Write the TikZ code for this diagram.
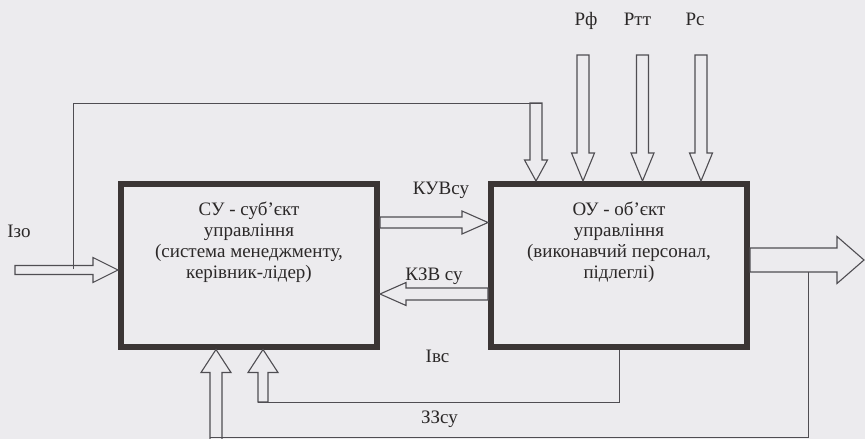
\documentclass[tikz,border=0pt]{standalone}
\usepackage{fontspec}
\setmainfont{Liberation Serif}
\usepackage{tikz}
\usetikzlibrary{calc, positioning}
\definecolor{scanBg}{HTML}{ECEBEE}
\definecolor{inkDark}{HTML}{3B3535}
\definecolor{inkLine}{HTML}{4F4D52}
\definecolor{inkText}{HTML}{2B2828}

% hollow block arrow: start, end, shaft half width, head half width, head length
\newcommand{\hollowarrow}[5]{%
  \coordinate (ha-h) at ($(#2)!#5!(#1)$);
  \draw[fatarrow]
    ($(#1)!#3!90:(#2)$) -- ($(ha-h)!#3!-90:(#1)$) -- ($(ha-h)!#4!-90:(#1)$) -- (#2)
    -- ($(ha-h)!#4!90:(#1)$) -- ($(ha-h)!#3!90:(#1)$) -- ($(#1)!#3!-90:(#2)$) -- cycle;
}

\begin{document}
\begin{tikzpicture}[
  x=1pt, y=-1pt,
  ctrlbox/.style={
    rectangle, draw=inkDark, fill=scanBg, line width=6pt,
    minimum width=256pt, minimum height=163pt,
  },
  boxtext/.style={
    align=center, inner sep=0pt, text=inkText,
    font=\fontsize{19}{21}\selectfont,
  },
  lbl/.style={inner sep=0pt, anchor=base, text=inkText, font=\fontsize{19}{21}\selectfont},
  fatarrow/.style={draw=inkLine, fill=scanBg, line width=1.1pt, line join=miter},
  thinline/.style={draw=inkLine, line width=1pt},
]

% Page
\fill[scanBg] (0,0) rectangle (865,439);
\useasboundingbox (0,0) rectangle (865,439);

% Boxes
\node[ctrlbox] (su) at (249,265) {};
\node[ctrlbox] (ou) at (619,265.5) {};
\node[boxtext, below=21pt of su.north] (su-txt)
  {СУ - суб’єкт\\управління\\(система менеджменту,\\керівник-лідер)};
\node[boxtext, below=21pt of ou.north] (ou-txt)
  {ОУ - об’єкт\\управління\\(виконавчий персонал,\\підлеглі)};

% Arrows between the boxes
\coordinate (kuv-a) at ($(su.east)+(0,-42.5)$);
\coordinate (kuv-b) at (kuv-a -| ou.west);
\hollowarrow{kuv-a}{kuv-b}{5.5pt}{11.5pt}{26pt}
\coordinate (kzv-a) at ($(ou.west)+(0,28.5)$);
\coordinate (kzv-b) at (kzv-a -| su.east);
\hollowarrow{kzv-a}{kzv-b}{6pt}{11.5pt}{26pt}

% Input and output
\coordinate (izo-a) at (15,270);
\coordinate (izo-b) at (izo-a -| su.west);
\hollowarrow{izo-a}{izo-b}{4.5pt}{12.5pt}{25pt}
\coordinate (out-a) at ($(ou.east)+(0,-5.5)$);
\coordinate (out-b) at (864,260);
\hollowarrow{out-a}{out-b}{12pt}{23.5pt}{27pt}

% Arrows into OU from above
\coordinate (zv-a) at (536,103);
\coordinate (zv-b) at (zv-a |- ou.north);
\hollowarrow{zv-a}{zv-b}{6pt}{11.5pt}{21pt}
\foreach \nm/\xx in {rf/583, rtt/642.5, rs/701} {
  \coordinate (\nm-a) at (\xx,55);
  \coordinate (\nm-b) at (\nm-a |- ou.north);
  \hollowarrow{\nm-a}{\nm-b}{6pt}{11.5pt}{28pt}
}

% Arrows into SU from below
\coordinate (zz-a) at (216,442);
\coordinate (zz-b) at (zz-a |- su.south);
\hollowarrow{zz-a}{zz-b}{6pt}{15pt}{23pt}
\coordinate (ivs-a) at (263,402);
\coordinate (ivs-b) at (ivs-a |- su.south);
\hollowarrow{ivs-a}{ivs-b}{5pt}{15pt}{23pt}

% Feedback lines
\coordinate (fb-a) at (73,269);
\draw[thinline] (fb-a) |- ($(zv-a)+(6,0)$);
\draw[thinline] (ou.south) |- ($(ivs-a)+(-5,0)$);
\coordinate (zzl) at ($(out-a)+(58,12)$);
\draw[thinline] (zzl) |- ($(zz-a)+(-6,-4.5)$);

% Labels
\node[lbl] (izo-l) at (19,237) {Ізо};
\node[lbl] (kuv-l) at (441,194) {КУВсу};
\node[lbl] (kzv-l) at (434,280) {КЗВ су};
\node[lbl] (ivs-l) at (437.5,362) {Івс};
\node[lbl] (zz-l) at (439.5,423) {ЗЗсу};
\node[lbl] (rf-l) at (586,25) {Рф};
\node[lbl] (rtt-l) at (637.5,25) {Ртт};
\node[lbl] (rs-l) at (695,25) {Рс};

\end{tikzpicture}
\end{document}
